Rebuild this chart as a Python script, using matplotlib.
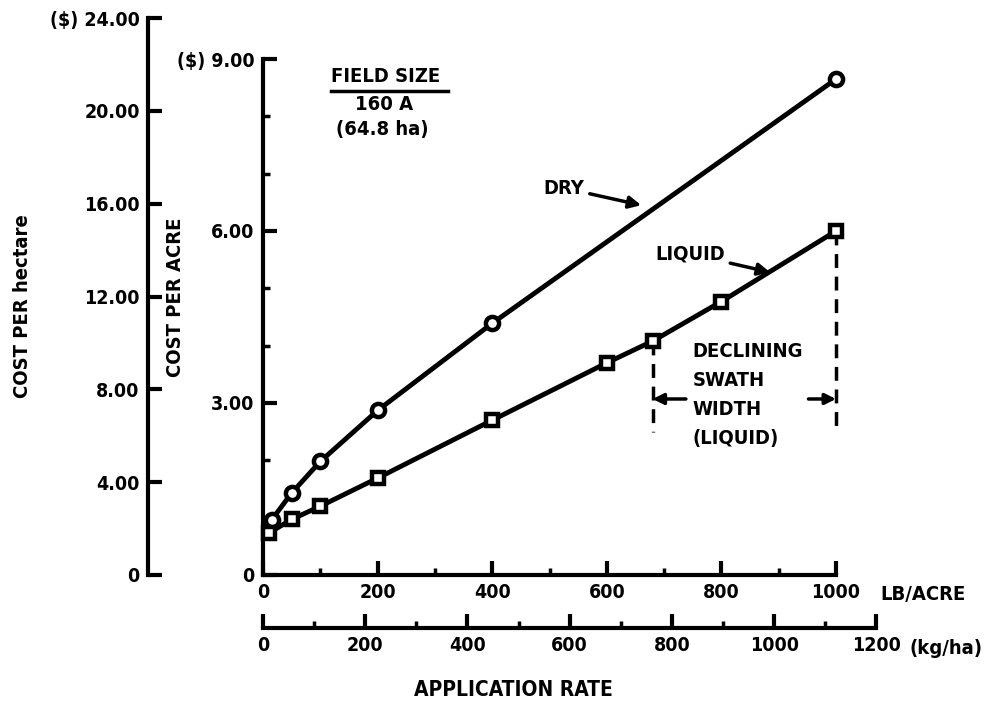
import matplotlib
matplotlib.use('Agg')
import matplotlib.pyplot as plt
from matplotlib.ticker import MultipleLocator, FixedLocator, FuncFormatter

# ------ DATA -----------------------------------
dry_rate = [15, 50, 100, 200, 400, 1000]                    # lb/acre
dry_cost = [0.96, 1.43, 1.98, 2.87, 4.39, 8.65]             # $/acre
liquid_rate = [10, 50, 100, 200, 400, 600, 680, 800, 1000]
liquid_cost = [0.73, 0.97, 1.20, 1.69, 2.70, 3.70, 4.08, 4.77, 6.00]

acre_ticks = [0, 3, 6, 9]
acre_labels = ['0', '3.00', '6.00', '($) 9.00']
ha_ticks = [0, 4, 8, 12, 16, 20, 24]
ha_labels = ['0', '4.00', '8.00', '12.00', '16.00', '20.00', '($) 24.00']
lb_ticks = [0, 200, 400, 600, 800, 1000]
kg_ticks = [0, 200, 400, 600, 800, 1000, 1200]

HA_PER_ACRE = 2.471       # $/acre -> $/ha
KG_PER_LB = 1.12085       # lb/acre -> kg/ha
swath_start = 680         # declining swath width starts here (lb/acre)

# ------ STYLE ----------------------------------
plt.rcParams['font.family'] = ['DejaVu Sans']
plt.rcParams['font.stretch'] = 'condensed'
plt.rcParams['font.weight'] = 'bold'
plt.rcParams['axes.labelweight'] = 'bold'
FS = 14
FS2 = 14.5
LW = 3.0

W, H = 995, 712
fig = plt.figure(figsize=(W / 100, H / 100), dpi=100)

# main axes ($/acre vs lb/acre), pixel box 263..836 x 59..575
L, R, T, B = 263, 836, 59, 575
ax = fig.add_axes([L / W, 1 - B / H, (R - L) / W, (B - T) / H])
ax.set_xlim(0, 1000)
ax.set_ylim(0, 9)
for s in ['top', 'right']:
    ax.spines[s].set_visible(False)
for s in ['left', 'bottom']:
    ax.spines[s].set_linewidth(LW)

ax.yaxis.set_major_locator(FixedLocator(acre_ticks))
ax.yaxis.set_major_formatter(FuncFormatter(lambda v, p: acre_labels[acre_ticks.index(round(v))]))
ax.yaxis.set_minor_locator(MultipleLocator(1))
ax.xaxis.set_major_locator(FixedLocator(lb_ticks))
ax.xaxis.set_minor_locator(MultipleLocator(100))
ax.tick_params(axis='both', which='major', direction='in', length=10, width=LW,
               labelsize=FS, pad=6)
ax.tick_params(axis='both', which='minor', direction='in', length=5, width=2.5)

# ------ CURVES ---------------------------------
ax.plot(dry_rate, dry_cost, '-', color='black', lw=3.5, marker='o', ms=9.5,
        mfc='white', mec='black', mew=3.2, clip_on=False, zorder=5)
ax.plot(liquid_rate, liquid_cost, '-', color='black', lw=3.5, marker='s', ms=8.5,
        mfc='white', mec='black', mew=3.2, clip_on=False, zorder=5)

# ------ ANNOTATIONS ----------------------------
ax.annotate('DRY', xy=(660, 6.45), xytext=(525, 6.75), fontsize=FS2,
            ha='center', va='center',
            arrowprops=dict(arrowstyle='-|>', color='black', lw=2.5, mutation_scale=18,
                            shrinkA=2, shrinkB=0))
ax.annotate('LIQUID', xy=(885, 5.28), xytext=(745, 5.6), fontsize=FS2,
            ha='center', va='center',
            arrowprops=dict(arrowstyle='-|>', color='black', lw=2.5, mutation_scale=18,
                            shrinkA=2, shrinkB=0))

y_sw = liquid_cost[liquid_rate.index(swath_start)]
ax.plot([swath_start, swath_start], [y_sw, 2.5], color='black', lw=2.5,
        ls=(0, (4, 2.5)), zorder=3)
ax.plot([1000, 1000], [liquid_cost[-1], 2.5], color='black', lw=2.5,
        ls=(0, (4, 2.5)), zorder=3, clip_on=False)
ax.annotate('', xy=(swath_start, 3.07), xytext=(738, 3.07),
            arrowprops=dict(arrowstyle='-|>', color='black', lw=2.5, mutation_scale=16,
                            shrinkA=0, shrinkB=0))
ax.annotate('', xy=(1000, 3.07), xytext=(952, 3.07),
            arrowprops=dict(arrowstyle='-|>', color='black', lw=2.5, mutation_scale=16,
                            shrinkA=0, shrinkB=0), annotation_clip=False)
ax.text(750, 4.07, 'DECLINING\nSWATH\nWIDTH\n(LIQUID)', fontsize=FS2, ha='left', va='top',
        linespacing=1.68)

ax.text(118, 8.7, 'FIELD SIZE', fontsize=FS2, ha='left', va='center')
ax.plot([118, 322], [8.45, 8.45], color='black', lw=2.5)
ax.text(160, 8.2, '160 A', fontsize=FS2, ha='left', va='center')
ax.text(128, 7.77, '(64.8 ha)', fontsize=FS2, ha='left', va='center')

ax.set_ylabel('COST PER ACRE', fontsize=FS2, fontweight='bold')
ax.yaxis.set_label_coords(-78 / (R - L), (B - 297) / (B - T))
fig.text(880 / W, 1 - 594 / H, 'LB/ACRE', fontsize=FS2, ha='left', va='center')

# ------ SECOND X AXIS (kg/ha) ------------------
kg_frac = 1200 / (1000 * KG_PER_LB)
axk = fig.add_axes([L / W, 1 - 628 / H, (R - L) / W * kg_frac, 0.001])
axk.set_xlim(0, 1200)
axk.set_yticks([])
for s in ['top', 'right', 'left']:
    axk.spines[s].set_visible(False)
axk.spines['bottom'].set_linewidth(LW)
axk.patch.set_visible(False)
axk.xaxis.set_major_locator(FixedLocator(kg_ticks))
axk.xaxis.set_minor_locator(MultipleLocator(100))
axk.tick_params(axis='x', which='major', direction='in', length=10, width=LW,
                labelsize=FS, pad=6)
axk.tick_params(axis='x', which='minor', direction='in', length=5, width=2.5)
fig.text(910 / W, 1 - 649 / H, '(kg/ha)', fontsize=FS2, ha='left', va='center')
fig.text(513 / W, 1 - 690 / H, 'APPLICATION RATE', fontsize=FS2 + 0.5, ha='center', va='center')

# ------ SECOND Y AXIS ($/ha) -------------------
ha_frac = 24 / (9 * HA_PER_ACRE)
axh = fig.add_axes([148 / W, 1 - B / H, 0.001, (B - T) / H * ha_frac])
axh.set_ylim(0, 24)
axh.set_xticks([])
for s in ['top', 'right', 'bottom']:
    axh.spines[s].set_visible(False)
axh.spines['left'].set_linewidth(LW)
axh.patch.set_visible(False)
axh.yaxis.set_major_locator(FixedLocator(ha_ticks))
axh.yaxis.set_major_formatter(FuncFormatter(lambda v, p: ha_labels[ha_ticks.index(round(v))]))
axh.tick_params(axis='y', direction='in', length=10, width=LW, labelsize=FS, pad=6)
fig.text(23 / W, 1 - 306 / H, 'COST PER hectare', fontsize=FS2, rotation=90,
         ha='center', va='center')

fig.savefig('out.png', dpi=100)
